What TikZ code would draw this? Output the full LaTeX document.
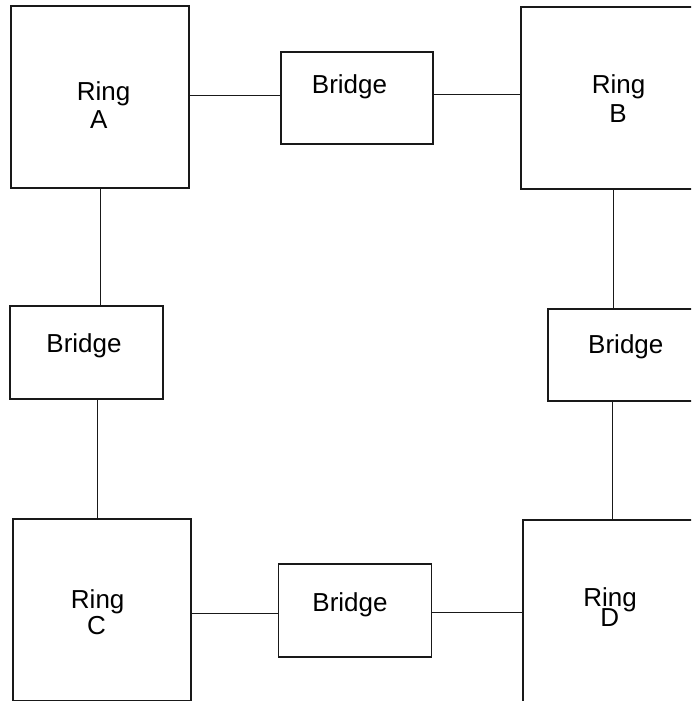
\documentclass[tikz,border=0pt]{standalone}
\usepackage{fontspec}
\setmainfont{Liberation Sans}
\begin{document}
\begin{tikzpicture}[x=1pt,y=-1pt,
  box/.style={draw=black!90,line width=1.3pt,rectangle,inner sep=0pt,fill=white},
  ringbox/.style={box,minimum width=178pt,minimum height=182pt},
  bridgebox/.style={box,minimum width=153pt,minimum height=93pt},
  lbl/.style={anchor=base,inner sep=0pt,font=\fontsize{26}{30}\selectfont},
  link/.style={draw=black!90,line width=1.3pt}]
\clip (0,0) rectangle (691,701);
\fill[white] (0,0) rectangle (691,701);
% boxes
\node[ringbox] (A) at (100,97) {};
\node[ringbox] (B) at (610,98) {};
\node[ringbox] (C) at (102,610) {};
\node[ringbox] (D) at (612,611) {};
\node[bridgebox,minimum width=152pt,minimum height=92pt] (Bt) at (357,98) {};
\node[bridgebox] (Bl) at (86.5,352.5) {};
\node[bridgebox,minimum width=152pt,minimum height=92pt] (Br) at (624,355) {};
\node[bridgebox] (Bb) at (355,610.5) {};
% connectors
\draw[link] (A.east |- 0,95.5) -- (Bt.west |- 0,95.5);
\draw[link] (Bt.east |- 0,94.8) -- (B.west |- 0,94.8);
\draw[link] (A.south -| 100.7,0) -- (Bl.north -| 100.7,0);
\draw[link] (Bl.south -| 97.7,0) -- (C.north -| 97.7,0);
\draw[link] (B.south -| 613.8,0) -- (Br.north -| 613.8,0);
\draw[link] (Br.south -| 612.5,0) -- (D.north -| 612.5,0);
\draw[link] (C.east |- 0,613.3) -- (Bb.west |- 0,613.3);
\draw[link] (Bb.east |- 0,612.5) -- (D.west |- 0,612.5);
% texts
\node[lbl] (At1) at (103.5,100) {Ring};
\node[lbl] (At2) at (98.7,128) {A};
\node[lbl] (Bt1) at (618.5,93) {Ring};
\node[lbl] (Bt2) at (618,122) {B};
\node[lbl] (Ct1) at (97.7,608.3) {Ring};
\node[lbl] (Ct2) at (96.5,634.5) {C};
\node[lbl] (Dt1) at (610,606.7) {Ring};
\node[lbl] (Dt2) at (609.7,626.7) {D};
\node[lbl] (Btt) at (349.5,93.3) {Bridge};
\node[lbl] (Blt) at (84,352.3) {Bridge};
\node[lbl] (Brt) at (625.8,353.3) {Bridge};
\node[lbl] (Bbt) at (350,611.7) {Bridge};
\end{tikzpicture}
\end{document}
